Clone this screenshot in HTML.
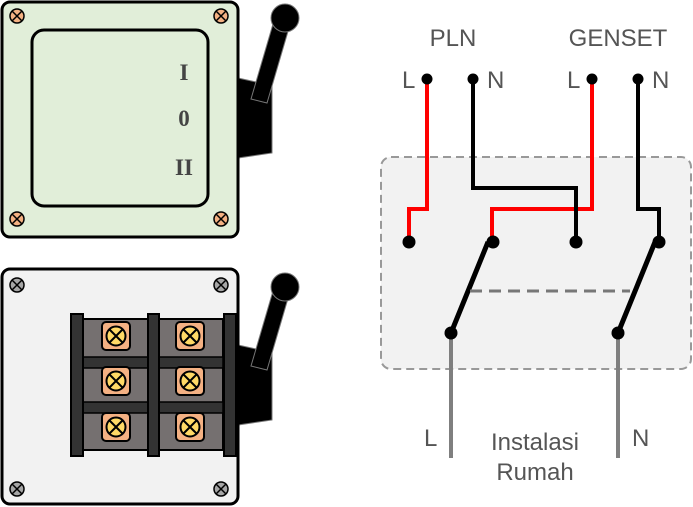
<!DOCTYPE html>
<html><head><style>body{margin:0;background:#fff}svg{display:block}</style></head><body>
<svg width="693" height="507" viewBox="0 0 693 507" xmlns="http://www.w3.org/2000/svg">
<defs>
<g id="sc"><circle r="7" stroke="#000" stroke-width="1.5"/><path d="M-4.5,-4.5L4.5,4.5M4.5,-4.5L-4.5,4.5" stroke="#000" stroke-width="1.5"/></g>
<g id="ts"><rect x="-14" y="-14" width="28" height="28" rx="4" fill="#f4b183" stroke="#000" stroke-width="2"/><circle r="9.5" fill="#ffd966" stroke="#000" stroke-width="2"/><path d="M-6.5,-6.5L6.5,6.5M6.5,-6.5L-6.5,6.5" stroke="#000" stroke-width="2"/></g>
</defs>
<polygon points="238,78 256,82 272,84 272,153 238,158" fill="#000" stroke="#777" stroke-width="1"/>
<polygon points="251,99 267,103 289,28 273,24" fill="#000" stroke="#777" stroke-width="1"/>
<circle cx="285" cy="18" r="14" fill="#000" stroke="#777" stroke-width="1"/>
<rect x="2" y="2" width="236" height="235" rx="8" fill="#e1eed9" stroke="#000" stroke-width="3"/>
<rect x="32" y="30" width="176" height="176" rx="12" fill="none" stroke="#000" stroke-width="3"/>
<g fill="#f4b183"><use href="#sc" x="17" y="16"/><use href="#sc" x="221" y="16"/><use href="#sc" x="17" y="219"/><use href="#sc" x="221" y="219"/></g>
<g font-family="Liberation Serif,serif" font-weight="bold" font-size="23" fill="#444" text-anchor="middle">
<text x="184" y="80">I</text><text x="184" y="126">0</text><text x="184" y="175">II</text></g>
<polygon points="238,345 256,349 272,351 272,420 238,425" fill="#000" stroke="#777" stroke-width="1"/>
<polygon points="251,366 267,370 289,295 273,291" fill="#000" stroke="#777" stroke-width="1"/>
<circle cx="285" cy="287" r="14" fill="#000" stroke="#777" stroke-width="1"/>
<rect x="2" y="269" width="236" height="235" rx="8" fill="#f2f2f2" stroke="#000" stroke-width="3"/>
<g fill="#a6a6a6"><use href="#sc" x="17" y="285"/><use href="#sc" x="221" y="285"/><use href="#sc" x="17" y="489"/><use href="#sc" x="221" y="489"/></g>
<rect x="83" y="319" width="140" height="131" fill="#757070" stroke="#000" stroke-width="2"/>
<rect x="83" y="357" width="140" height="11" fill="#333" stroke="#000" stroke-width="1.5"/>
<rect x="83" y="402" width="140" height="11" fill="#333" stroke="#000" stroke-width="1.5"/>
<g fill="#333" stroke="#000" stroke-width="2"><rect x="71" y="314" width="12" height="142"/><rect x="148" y="314" width="11" height="142"/><rect x="224" y="314" width="12" height="142"/></g>
<use href="#ts" x="116" y="336"/><use href="#ts" x="190" y="336"/><use href="#ts" x="116" y="381"/><use href="#ts" x="190" y="381"/><use href="#ts" x="116" y="427"/><use href="#ts" x="190" y="427"/>
<rect x="381" y="157" width="310" height="212" rx="10" fill="#f2f2f2" stroke="#999" stroke-width="2" stroke-dasharray="8,5"/>
<g fill="none" stroke-width="4">
<path d="M427,79V209H409V242" stroke="#f00"/>
<path d="M592,79V209H492V242" stroke="#f00"/>
<path d="M473,79V188H576V242" stroke="#000"/>
<path d="M638,79V209H659V242" stroke="#000"/>
<path d="M451,333L488,242M618,333L655,242" stroke="#000" stroke-width="5"/>
<path d="M470,291H630" stroke="#777" stroke-width="3" stroke-dasharray="12,7"/>
<path d="M451,333V458M618,333V458" stroke="#7f7f7f"/>
</g>
<g fill="#000"><circle cx="427" cy="79" r="5.5"/><circle cx="473" cy="79" r="5.5"/><circle cx="592" cy="79" r="5.5"/><circle cx="638" cy="79" r="5.5"/>
<circle cx="409" cy="242" r="6.5"/><circle cx="493" cy="242" r="6.5"/><circle cx="576" cy="242" r="6.5"/><circle cx="659" cy="242" r="6.5"/>
<circle cx="451" cy="333" r="6.5"/><circle cx="618" cy="333" r="6.5"/></g>
<g font-family="Liberation Sans,sans-serif" font-size="24" fill="#555">
<text x="453" y="46" text-anchor="middle">PLN</text><text x="618" y="46" text-anchor="middle">GENSET</text>
<text x="402" y="88">L</text><text x="487" y="88">N</text><text x="567" y="88">L</text><text x="652" y="88">N</text>
<text x="424" y="446">L</text><text x="632" y="446">N</text>
<text x="535" y="450" text-anchor="middle">Instalasi</text><text x="535" y="480" text-anchor="middle">Rumah</text>
</g>
</svg>
</body></html>
